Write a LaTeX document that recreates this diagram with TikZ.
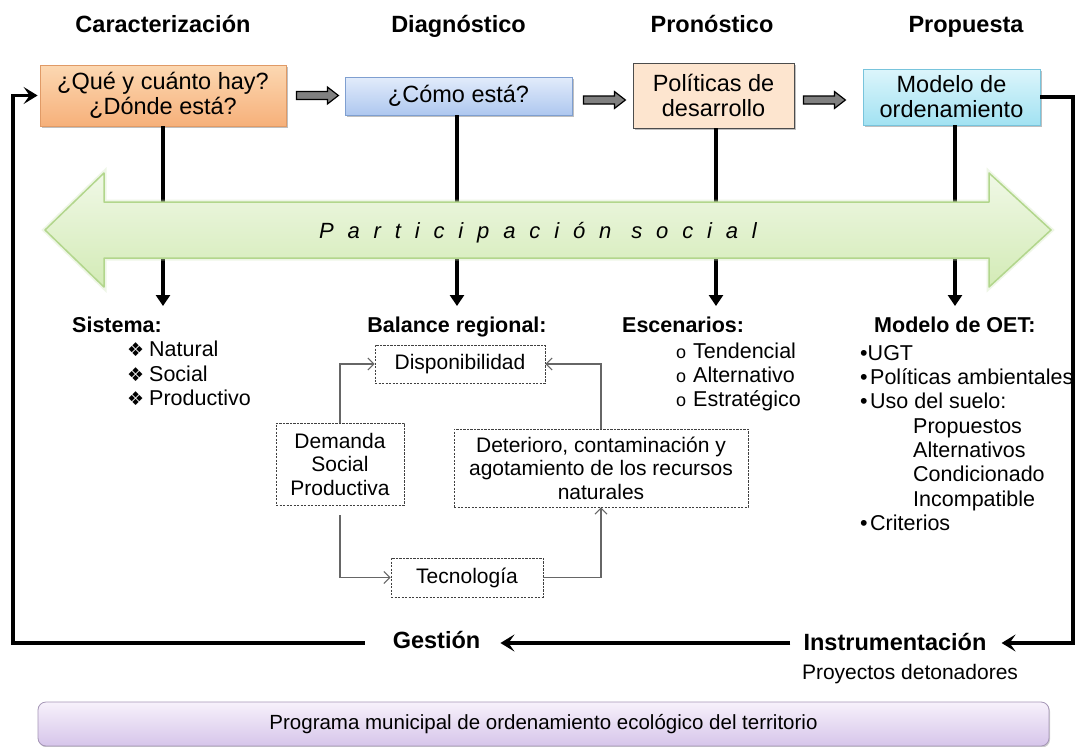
\documentclass[tikz,border=0pt]{standalone}
\usepackage{fontspec}
\setmainfont{Liberation Sans}
\newfontfamily\symfont{DejaVu Sans}
\usetikzlibrary{arrows.meta,shadows,calc}
\definecolor{orTop}{HTML}{FCD8B2}
\definecolor{orBot}{HTML}{F6B07A}
\definecolor{orLine}{HTML}{E09A66}
\definecolor{blTop}{HTML}{E2ECFB}
\definecolor{blBot}{HTML}{AEC7EF}
\definecolor{blLine}{HTML}{7F9FD0}
\definecolor{peach}{HTML}{FDE5CF}
\definecolor{cyTop}{HTML}{DCF5FB}
\definecolor{cyBot}{HTML}{A2E2F2}
\definecolor{cyLine}{HTML}{78C4DC}
\definecolor{puTop}{HTML}{F7F1FB}
\definecolor{puBot}{HTML}{D6C5EA}
\definecolor{puLine}{HTML}{A596B6}
\definecolor{grTop}{HTML}{F0F8E6}
\definecolor{grBot}{HTML}{D3EBB6}
\definecolor{grLine}{HTML}{B2D68C}
\newcommand\leadbox[2]{\makebox[#1][l]{#2}}
\newcommand\diamondmark{\leadbox{22pt}{\symfont\fontsize{19}{19}\selectfont ❖}}
\newcommand\ringmark{\leadbox{17pt}{\fontsize{18}{18}\selectfont o}}

\begin{document}
\begin{tikzpicture}[x=1pt,y=-1pt,
  header/.style={font=\fontsize{23.5}{26}\selectfont\bfseries, anchor=base, inner sep=0pt},
  subhead/.style={font=\fontsize{21.5}{24.3}\selectfont\bfseries, anchor=base west, inner sep=0pt},
  itemlist/.style={font=\fontsize{21.5}{24.3}\selectfont, anchor=north west, inner sep=0pt, align=left},
  stage/.style={align=center, inner sep=0pt, font=\fontsize{23.5}{25}\selectfont, line width=0.8pt,
    drop shadow={shadow xshift=1.5pt, shadow yshift=-2pt, opacity=0.25, fill=black}},
  flowbox/.style={draw=black!75, dash pattern=on 2.2pt off 1.3pt, line width=0.8pt, align=center,
    inner sep=0pt, font=\fontsize{21}{23.5}\selectfont},
  flowlink/.style={draw=black!60, line width=1.1pt, -{Straight Barb[length=6pt,width=12pt]}},
  droparrow/.style={line width=3.5pt, -{Triangle[length=11pt,width=14pt]}},
  loopline/.style={line width=3.5pt, -{Stealth[length=14pt,width=17pt,inset=6pt]}},
  fatarrow/.pic={\draw[fill=black!50, draw=black, line width=1.2pt]
    (0,-4) -- (31,-4) -- (31,-8.5) -- (42,0) -- (31,8.5) -- (31,4) -- (0,4) -- cycle;},
]
\useasboundingbox (0,0) rectangle (1077,747);
\fill[white] (0,0) rectangle (1077,747);

% column headings
\node[header] (h1) at (163,32) {Caracterización};
\node[header] (h2) at (458.5,32) {Diagnóstico};
\node[header] (h3) at (712,32) {Pronóstico};
\node[header] (h4) at (966,32) {Propuesta};

% stage boxes
\node[stage, minimum width=246pt, minimum height=61pt, draw=orLine, top color=orTop, bottom color=orBot]
  (b1) at (163,95.5) {¿Qué y cuánto hay?\\¿Dónde está?};
\node[stage, minimum width=227pt, minimum height=38pt, draw=blLine, top color=blTop, bottom color=blBot]
  (b2) at (458.5,96) {¿Cómo está?};
\node[stage, minimum width=161pt, minimum height=65pt, draw=black!70, fill=peach]
  (b3) at (713.5,95.5) {Políticas de\\desarrollo};
\node[stage, minimum width=177pt, minimum height=56pt, draw=cyLine, top color=cyTop, bottom color=cyBot]
  (b4) at (951.5,97) {Modelo de\\ordenamiento};

% block arrows between the stages
\pic at ($(b1.east)+(10,0)$) {fatarrow};
\pic at ($(b2.east)+(11,4)$) {fatarrow};
\pic at ($(b3.east)+(9,4.5)$) {fatarrow};

% drops from every stage to its results
\coordinate (d1) at (163,306);
\coordinate (d2) at (457,306);
\coordinate (d3) at (716,306);
\coordinate (d4) at (955,306);
\draw[droparrow] (b1.south -| d1) -- (d1);
\draw[droparrow] (b2.south -| d2) -- (d2);
\draw[droparrow] (b3.south -| d3) -- (d3);
\draw[droparrow] (b4.south -| d4) -- (d4);

% social participation band
\draw[draw=grLine, line width=1.5pt, top color=grTop, bottom color=grBot, line join=round,
      preaction={draw=grLine!60, line width=5pt, opacity=0.35}]
  (45,230) -- (104,173) -- (104,202) -- (989,202) -- (989,173) -- (1051,230)
  -- (989,287) -- (989,258) -- (104,258) -- (104,287) -- cycle;
\node[font=\fontsize{22}{24}\selectfont\itshape\addfontfeatures{LetterSpace=63}, anchor=base, inner sep=0pt]
  (part) at (538,238) {Participación social};

% results of each stage
\node[subhead] (sis) at (72,332.5) {Sistema:};
\node[itemlist] (sisl) at (127,339.5) {\strut\diamondmark Natural\\
  \diamondmark Social\\
  \diamondmark Productivo};

\node[subhead, anchor=base] (bal) at (457,332.5) {Balance regional:};

\node[subhead] (esc) at (622,332.5) {Escenarios:};
\node[itemlist] (escl) at (676,341) {\strut\ringmark Tendencial\\
  \ringmark Alternativo\\
  \ringmark Estratégico};

\node[subhead] (oet) at (874,332.5) {Modelo de OET:};
\node[itemlist] (oetl) at (860,343) {\strut •UGT\\
  \leadbox{10pt}{•}Políticas ambientales\\
  \leadbox{10pt}{•}Uso del suelo:\\
  \hspace*{53pt}Propuestos\\
  \hspace*{53pt}Alternativos\\
  \hspace*{53pt}Condicionado\\
  \hspace*{53pt}Incompatible\\
  \leadbox{10pt}{•}Criterios};

% regional balance cycle
\node[flowbox, minimum width=170pt, minimum height=38pt] (disp) at (460,364) {Disponibilidad};
\node[flowbox, minimum width=128pt, minimum height=82pt] (dem) at (340,464) {Demanda\\Social\\Productiva};
\node[flowbox, minimum width=294pt, minimum height=78pt] (det) at (601,468)
  {Deterioro, contaminación y\\agotamiento de los recursos\\naturales};
\node[flowbox, minimum width=152pt, minimum height=39pt] (tec) at (467,577.5) {Tecnología};
\draw[flowlink] (dem.north) |- (disp.west);
\draw[flowlink, shorten <=10pt] (dem.south) |- (tec.west);
\draw[flowlink] (tec.east) -| (det.south);
\draw[flowlink] (det.north) |- (disp.east);

% management loop
\node[header, text height=10pt, text depth=0pt] (gest) at (436.5,648) {Gestión};
\node[header, text height=14pt, text depth=0pt] (instr) at (895,650) {Instrumentación};
\node[font=\fontsize{21}{23}\selectfont, anchor=base, inner sep=0pt] (proy) at (910,679) {Proyectos detonadores};
\coordinate (cl) at (13,95.5);
\coordinate (cr) at (1073,643);
\draw[loopline] ([xshift=-13pt]instr.west) -- ([xshift=20pt]gest.east);
\draw[loopline, shorten >=2pt] ([xshift=-28pt]gest.west) -| (cl) -- (b1.west);
\draw[loopline] (b4.east) -- (b4.east -| cr) -- (cr) -- ([xshift=15pt]instr.east);

% programme banner
\node[draw=puLine, line width=0.8pt, rounded corners=8pt, top color=puTop, bottom color=puBot,
      minimum width=1011pt, minimum height=44pt, inner sep=0pt, font=\fontsize{20.5}{22}\selectfont,
      drop shadow={shadow xshift=1pt, shadow yshift=-1.5pt, opacity=0.2, fill=black}]
  (prog) at (543.5,724) {Programa municipal de ordenamiento ecológico del territorio};
\end{tikzpicture}
\end{document}
